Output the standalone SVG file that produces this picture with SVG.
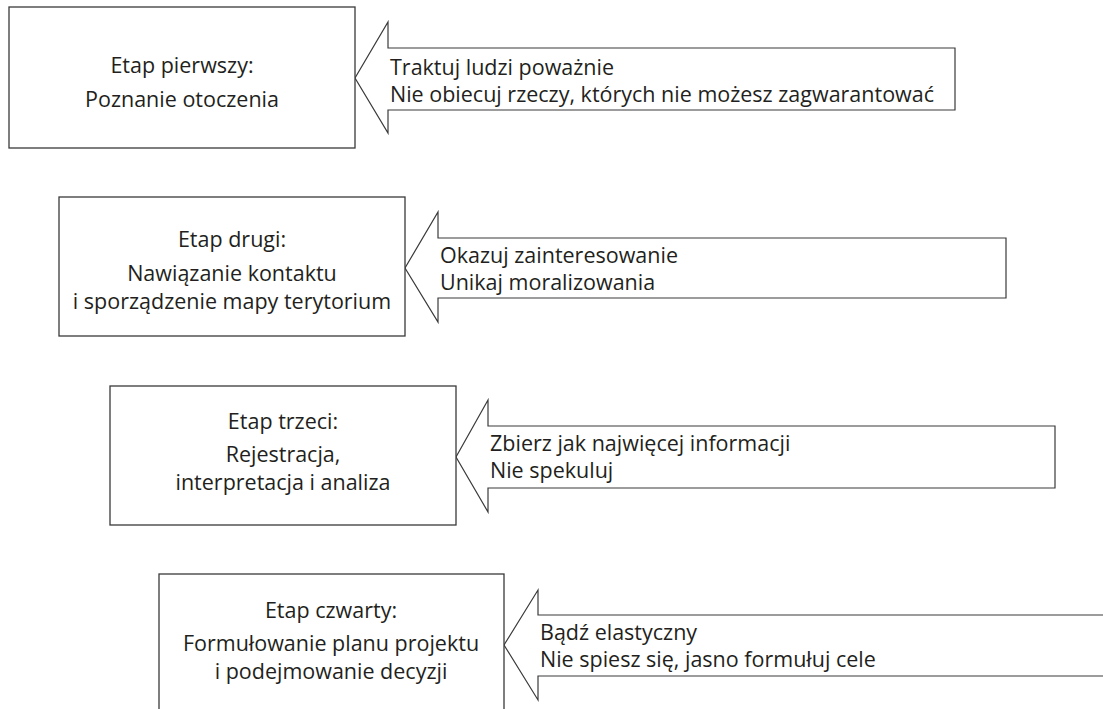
<svg xmlns="http://www.w3.org/2000/svg" width="1103" height="709" viewBox="0 0 1103 709">
<style>
.box{fill:#fff;stroke:#3a3a3a;stroke-width:1.3}
.arrow{fill:#fff;stroke:#3a3a3a;stroke-width:1.2;stroke-linejoin:miter}
text{font-family:"Open Sans","Noto Sans","DejaVu Sans",sans-serif;font-size:21.5px;fill:#231f20}
.c{text-anchor:middle}
</style>
<rect width="1103" height="709" fill="#fff"/>
<g id="connectors">
<polygon class="arrow" points="955,48 388,48 388,22 355,78 388,133 388,110 955,110"/>
<polygon class="arrow" points="1006,238 438,238 438,212 405,268 438,322 438,298 1006,298"/>
<polygon class="arrow" points="1055,426 488,426 488,400 456,457 488,512 488,488 1055,488"/>
<polygon class="arrow" points="1110,615 538,615 538,590 504,645 538,700 538,676 1110,676"/>
</g>
<g id="note1">
<text x="390" y="75">Traktuj ludzi poważnie</text>
<text x="390" y="102">Nie obiecuj rzeczy, których nie możesz zagwarantować</text>
</g>
<g id="note2">
<text x="440" y="263">Okazuj zainteresowanie</text>
<text x="440" y="290">Unikaj moralizowania</text>
</g>
<g id="note3">
<text x="490" y="451">Zbierz jak najwięcej informacji</text>
<text x="490" y="478">Nie spekuluj</text>
</g>
<g id="note4">
<text x="540" y="640">Bądź elastyczny</text>
<text x="540" y="667">Nie spiesz się, jasno formułuj cele</text>
</g>
<g id="stage1">
<rect class="box" x="9" y="7" width="346" height="141"/>
<text class="c" x="182" y="73">Etap pierwszy:</text>
<text class="c" x="182" y="107">Poznanie otoczenia</text>
</g>
<g id="stage2">
<rect class="box" x="59" y="197" width="346" height="139"/>
<text class="c" x="232" y="247">Etap drugi:</text>
<text class="c" x="232" y="281">Nawiązanie kontaktu</text>
<text class="c" x="232" y="309">i sporządzenie mapy terytorium</text>
</g>
<g id="stage3">
<rect class="box" x="110" y="386" width="346" height="139"/>
<text class="c" x="283" y="429">Etap trzeci:</text>
<text class="c" x="283" y="462">Rejestracja,</text>
<text class="c" x="283" y="490">interpretacja i analiza</text>
</g>
<g id="stage4">
<rect class="box" x="159" y="574" width="345" height="145"/>
<text class="c" x="331" y="618">Etap czwarty:</text>
<text class="c" x="331" y="651">Formułowanie planu projektu</text>
<text class="c" x="331" y="679">i podejmowanie decyzji</text>
</g>
</svg>
